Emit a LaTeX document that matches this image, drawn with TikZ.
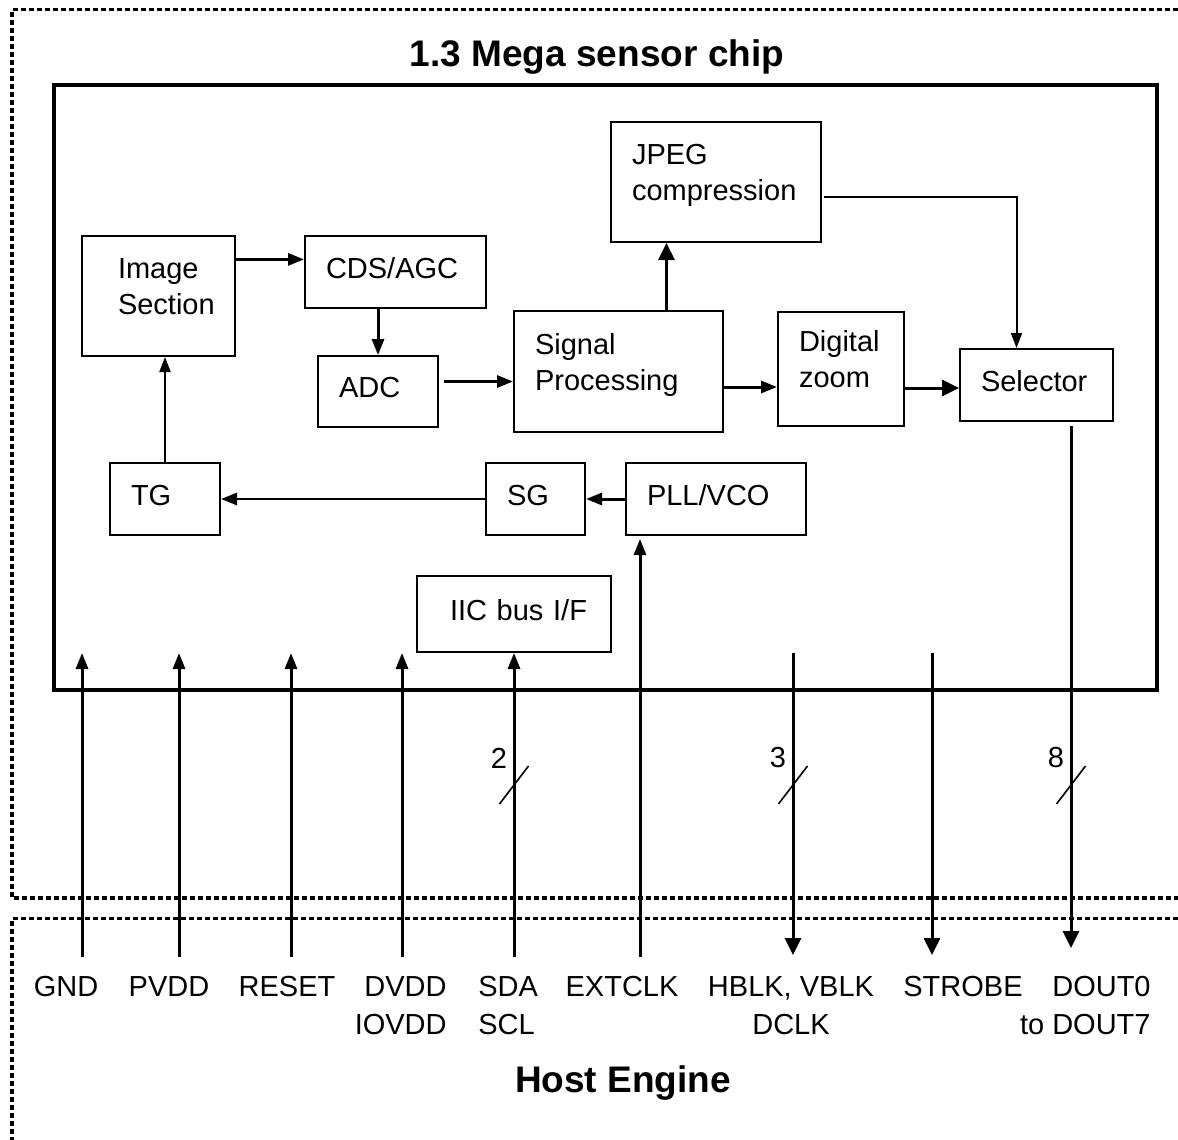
\documentclass[tikz,border=0pt]{standalone}
\usepackage{fontspec}
\setmainfont{Liberation Sans}
\usetikzlibrary{arrows.meta, calc}

\begin{document}
\begin{tikzpicture}[
      x = .5pt, y = -.5pt, font = \fontsize{14.5}{19}\selectfont,
      blk/.style     = {draw = black, line width = 1pt, align = left, inner sep = 0pt,
                        font = \fontsize{14.5}{18}\selectfont,
                        text height = 10.5pt, text depth = 4.5pt},
      two/.style     = {text depth = 28pt},
      wd/.style      = {minimum width = #1, text width = #1 - 21pt},
      chipbox/.style = {draw = black, line width = 2pt, inner sep = 0pt},
      arr/.style     = {-{Triangle[length = 8pt, width = 6pt]}, line width = 1.5pt},
      thinarr/.style = {-{Triangle[length = 7.5pt, width = 5.5pt]}, line width = 1pt},
      bigarr/.style  = {-{Triangle[length = 8.5pt, width = 8pt]}, line width = 1.5pt},
      border/.style  = {line width = 1.6pt, dash pattern = on 2.5pt off 1.5pt},
      slash/.style   = {line width = .8pt},
      pinlbl/.style  = {inner sep = 0pt, anchor = north},
      heading/.style = {font = \fontsize{18.5}{22}\selectfont\bfseries}
    ]
  \useasboundingbox (0,0) rectangle (1178,1140);

  % ---------- dotted borders -------------------------------------------
  \draw[border] (1178,9.5) -- (12,9.5) -- (12,898) -- (1178,898);
  \draw[border] (1178,918.5) -- (12,918.5) -- (12,1140);

  % ---------- sensor chip ----------------------------------------------
  \node[chipbox, minimum width = 551.5pt, minimum height = 302.5pt] (chip) at (605.5,387.5) {};
  \node[heading] (title) at (597,57) {1.3 Mega sensor chip};

  \node[blk, two, wd = 76.5pt, text width = 40.5pt, minimum height = 60pt] (img) at (158.5,296) {Image\\Section};
  \node[blk, wd = 90.5pt,  minimum height = 36pt]   (cds)  at (395.5,272) {CDS/AGC};
  \node[blk, wd = 60pt,    minimum height = 35.5pt] (adc)  at (378,391.5) {ADC};
  \node[blk, two, wd = 104.5pt, minimum height = 60.5pt] (sp) at (618.5,371.5) {Signal\\Processing};
  \node[blk, two, wd = 105pt,   minimum height = 60pt] (jpeg) at (716,182) {JPEG\\compression};
  \node[blk, two, wd = 63pt,    minimum height = 57pt] (dz)   at (841,369) {Digital\\zoom};
  \node[blk, wd = 76.5pt,  minimum height = 36pt]   (sel)  at (1036.5,385) {Selector};
  \node[blk, wd = 55pt,    minimum height = 36pt]   (tg)   at (165,499) {TG};
  \node[blk, wd = 49.5pt,  minimum height = 36pt]   (sg)   at (535.5,499) {SG};
  \node[blk, wd = 90pt,    minimum height = 36pt]   (pll)  at (716,499) {PLL/VCO};
  \node[blk, wd = 97pt, text width = 64pt, minimum height = 38pt] (iic) at (514,614) {\mbox{IIC bus I/F}};

  % ---------- signal path ----------------------------------------------
  \draw[arr] ($(img.north east)!.2!(img.south east)$) coordinate (a1) -- (a1 -| cds.west);
  \draw[arr] (adc.north |- cds.south) -- (adc.north);
  \draw[arr] ([xshift = 2.5pt, yshift = 5pt]adc.east) coordinate (a2) -- (a2 -| sp.west);
  \draw[bigarr] ([xshift = 24pt]sp.north) coordinate (a3) -- (a3 |- jpeg.south);
  \draw[arr] ([yshift = -7.75pt]sp.east) coordinate (a4) -- (a4 -| dz.west);
  \draw[bigarr] ([yshift = -9.5pt]dz.east) coordinate (a5) -- (a5 -| sel.west);
  \draw[thinarr] ([xshift = 1pt, yshift = -7.5pt]jpeg.east) -| ([xshift = -10pt]sel.north);

  % ---------- timing ---------------------------------------------------
  \draw[arr] (pll.west) -- (pll.west -| sg.east);
  \draw[arr, line width = 1.3pt] (sg.west) -- (sg.west -| tg.east);
  \draw[thinarr] (tg.north) -- (tg.north |- img.south);

  % ---------- pins -----------------------------------------------------
  \coordinate (pingnd)   at (82,957);
  \coordinate (pinpvdd)  at (179,957);
  \coordinate (pinreset) at (291,957);
  \coordinate (pindvdd)  at (402,957);
  \coordinate (pinsda)   at (514,957);
  \coordinate (pinext)   at (640,957);
  \coordinate (pinhblk)  at (793,955);
  \coordinate (pinstrb)  at (932,955);
  \coordinate (pindout)  at (1071,948);

  \foreach \p in {gnd, pvdd, reset, dvdd}
    \draw[arr] (pin\p) -- (pin\p |- iic.south);
  \draw[arr] (pinsda) -- (iic.south);
  \draw[arr, shorten > = 1.5pt] (pinext) -- (pinext |- pll.south);
  \draw[bigarr] (pinhblk |- iic.south) -- (pinhblk);
  \draw[bigarr] (pinstrb |- iic.south) -- (pinstrb);
  \draw[bigarr, shorten < = 2pt] (pindout |- sel.south) -- (pindout);

  \foreach \p/\n in {sda/2, hblk/3, dout/8} {
    \coordinate (bus\p) at (pin\p |- 0,785);
    \draw[slash] ($(bus\p)+(-14.5,19)$) -- ($(bus\p)+(14.5,-19)$);
    \node (num\p) at ($(bus\p)+(-15,-27)$) {\n};
  }

  % ---------- pin labels -----------------------------------------------
  \node[pinlbl] (lgnd)   at (66,976)  {GND};
  \node[pinlbl] (lpvdd)  at (169,976) {PVDD};
  \node[pinlbl] (lreset) at (287,976) {RESET};
  \node[pinlbl, anchor = north east, align = right] (ldvdd) at (447,976) {DVDD\\IOVDD};
  \node[pinlbl, anchor = north west, align = left]  (lsda)  at (478,976) {SDA\\SCL};
  \node[pinlbl] (lext)   at (622,976) {EXTCLK};
  \node[pinlbl, align = center] (lhblk) at (791,976) {HBLK, VBLK\\DCLK};
  \node[pinlbl] (lstrb)  at (963,976) {STROBE};
  \node[pinlbl, anchor = north east, align = right] (ldout) at (1151,976) {DOUT0\\to DOUT7};

  \node[heading] (host) at (623,1083) {Host Engine};

\end{tikzpicture}
\end{document}
